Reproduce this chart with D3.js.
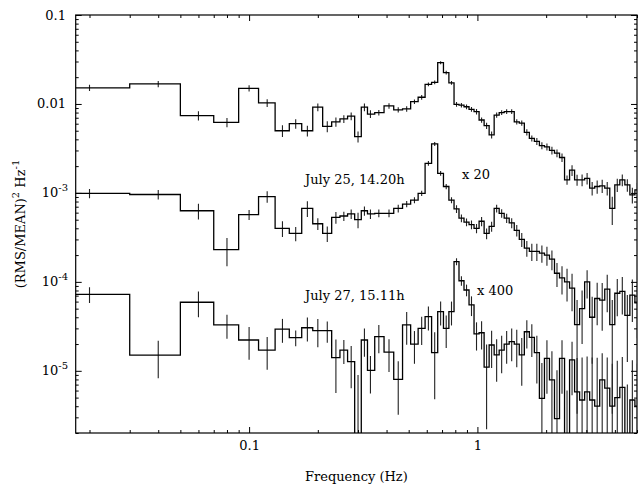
<!DOCTYPE html>
<html>
<head>
<meta charset="utf-8">
<script src="https://cdn.jsdelivr.net/npm/d3@7"></script>
<style>
  body { margin: 0; background: #fff; }
  svg { display: block; font-family: 'DejaVu Serif', serif; }
</style>
</head>
<body>
<svg width="639" height="487"></svg>
<script>
// bin centres (Hz), shared by the three spectra
const freq = [0.02, 0.04, 0.06, 0.08, 0.10, 0.12, 0.14, 0.16, 0.18, 0.20, 0.22, 0.24, 0.26, 0.28, 0.30, 0.32, 0.34,
  0.37, 0.41, 0.45, 0.49, 0.53, 0.57, 0.61, 0.65, 0.69, 0.73, 0.77, 0.81,
  0.851, 0.896, 0.942, 0.991, 1.043, 1.097, 1.154, 1.214, 1.277, 1.343, 1.413, 1.487, 1.564, 1.646, 1.731, 1.821, 1.916,
  2.016, 2.120, 2.231, 2.347, 2.469, 2.597, 2.732, 2.874, 3.023, 3.181, 3.346, 3.520, 3.703, 3.896,
  4.098, 4.311, 4.536, 4.771, 5.020];

// top spectrum (no scaling)
const topPower = [0.0152, 0.0168, 0.0074, 0.0062, 0.0150, 0.0103, 0.0050, 0.0060, 0.0050, 0.0092, 0.0056, 0.0063, 0.0068, 0.0073, 0.0043, 0.0092, 0.0077,
  0.0080, 0.0095, 0.0086, 0.0088, 0.0106, 0.0119, 0.0166, 0.0175, 0.0291, 0.0225, 0.0173, 0.0099,
  0.0097, 0.0093, 0.0087, 0.0082, 0.0066, 0.0057, 0.0045, 0.0075, 0.0080, 0.0082, 0.0082, 0.0063, 0.0061, 0.0048, 0.0041, 0.0038, 0.0034,
  0.0033, 0.0030, 0.0028, 0.0025, 0.0014, 0.0018, 0.0014, 0.0014, 0.00146, 0.00113, 0.00118, 0.0012, 0.00113, 0.00067,
  0.00123, 0.0014, 0.00123, 0.00095, 0.00108];
const topErr = [0.08, 0.08, 0.12, 0.12, 0.08, 0.1, 0.15, 0.12, 0.14, 0.1, 0.14, 0.12, 0.1, 0.1, 0.14, 0.1, 0.1,
  0.07, 0.07, 0.07, 0.07, 0.06, 0.06, 0.05, 0.05, 0.04, 0.05, 0.05, 0.06,
  0.06, 0.06, 0.06, 0.07, 0.07, 0.08, 0.09, 0.07, 0.06, 0.06, 0.06, 0.07, 0.07, 0.08, 0.08, 0.09, 0.09,
  0.09, 0.1, 0.1, 0.11, 0.12, 0.14, 0.14, 0.15, 0.15, 0.17, 0.17, 0.17, 0.17, 0.35,
  0.17, 0.15, 0.16, 0.2, 0.2];

// July 25, 14.20h  (x 20)
const july25 = [0.00099, 0.00096, 0.00063, 0.00023, 0.00057, 0.00091, 0.00040, 0.00035, 0.00067, 0.00045, 0.00035, 0.00053, 0.00055, 0.00058, 0.00050, 0.00063, 0.00058,
  0.00059, 0.00059, 0.00067, 0.00075, 0.00083, 0.00099, 0.00215, 0.00355, 0.00166, 0.00118, 0.00083, 0.00066,
  0.00052, 0.00047, 0.00044, 0.00040, 0.00048, 0.00035, 0.00042, 0.00067, 0.00059, 0.00052, 0.00046, 0.00038, 0.00030, 0.00024, 0.00022, 0.00022, 0.00021,
  0.00020, 0.00018, 0.000125, 0.000111, 0.00010, 0.000085, 0.000033, 0.00005, 0.0001, 0.00004, 0.000065, 0.0000625, 0.000083, 0.000033,
  0.0000745, 0.000078, 0.000042, 0.000071, 0.000058];
const july25Err = [0.12, 0.12, 0.2, 0.35, 0.13, 0.15, 0.2, 0.18, 0.2, 0.15, 0.2, 0.15, 0.12, 0.12, 0.2, 0.12, 0.12,
  0.1, 0.1, 0.1, 0.08, 0.08, 0.07, 0.06, 0.05, 0.06, 0.07, 0.08, 0.1,
  0.1, 0.1, 0.11, 0.12, 0.12, 0.14, 0.13, 0.1, 0.11, 0.12, 0.13, 0.15, 0.18, 0.2, 0.22, 0.22, 0.22,
  0.24, 0.25, 0.3, 0.35, 0.4, 0.45, 0.9, 0.6, 0.35, 0.7, 0.5, 0.55, 0.45, 0.9,
  0.45, 0.45, 0.7, 0.5, 0.6];

// July 27, 15.11h  (x 400)
const july27 = [7.25e-5, 1.5e-5, 5.9e-5, 3.28e-5, 2.22e-5, 1.71e-5, 2.95e-5, 2.36e-5, 3.05e-5, 2.83e-5, 2.83e-5, 1.41e-5, 1.71e-5, 1.27e-5, 1e-6, 2.22e-5, 1.01e-5,
  2.42e-5, 1.62e-5, 8.0e-6, 3.28e-5, 2.0e-5, 3.0e-5, 4.06e-5, 1.6e-5, 4.62e-5, 3.0e-5, 4.62e-5, 1.69e-4,
  1.03e-4, 8.1e-5, 5.5e-5, 2.6e-5, 2.68e-5, 1.1e-5, 1.95e-5, 1.51e-5, 1.71e-5, 2.0e-5, 2.13e-5, 2.0e-5, 1.51e-5, 2.75e-5, 2.38e-5, 1.6e-5, 4.9e-6,
  1.38e-5, 7.9e-6, 2.9e-6, 1.38e-5, 1e-6, 1.33e-5, 5.8e-6, 4.7e-6, 5.8e-6, 4.7e-6, 4.0e-6, 7.9e-6, 6.4e-6, 4.0e-6,
  5.0e-6, 6.5e-6, 1e-6, 4.7e-6, 4.0e-6];
const july27Err = [0.2, 0.45, 0.32, 0.3, 0.4, 0.4, 0.3, 0.2, 0.3, 0.35, 0.27, 0.6, 0.3, 0.5, 8, 0.35, 0.45,
  0.35, 0.4, 0.6, 0.4, 0.4, 0.35, 0.3, 0.7, 0.3, 0.4, 0.3, 0.09,
  0.12, 0.15, 0.25, 0.35, 0.35, 0.8, 0.45, 0.5, 0.45, 0.4, 0.4, 0.45, 0.55, 0.35, 0.4, 0.55, 1.5,
  0.6, 1.1, 2.5, 0.6, 5, 0.6, 1.4, 2, 1.5, 2, 2.5, 1, 1.2, 2,
  1.6, 1.2, 6, 1.8, 2];

const xMajor = [0.1, 1];
const xMinor = [0.02, 0.03, 0.04, 0.05, 0.06, 0.07, 0.08, 0.09, 0.2, 0.3, 0.4, 0.5, 0.6, 0.7, 0.8, 0.9, 2, 3, 4, 5];
const yMajor = [0.1, 0.01, 1e-3, 1e-4, 1e-5];
const yMajorBase = ['0.1', '0.01', '10', '10', '10'];
const yMajorExp = ['', '', '-3', '-4', '-5'];
const yDecades = [1e-6, 1e-5, 1e-4, 1e-3, 1e-2];
const yMinorSteps = [2, 3, 4, 5, 6, 7, 8, 9];

const svg = d3.select('svg');
const width = +svg.attr('width');
const height = +svg.attr('height');

const plotLeft = 75.7;
const plotRight = 637;
const plotTop = 15;
const plotBottom = 433;

const x = d3.scaleLog().domain([0.0174, 5.0]).range([plotLeft, plotRight]);
const y = d3.scaleLog().domain([2e-6, 0.1]).range([plotBottom, plotTop]);

const yMinor = yDecades.flatMap(d => yMinorSteps.map(m => d * m))
    .filter(v => v >= 2e-6 && v < 0.1);

svg.append('clipPath')
    .attr('id', 'plot')
  .append('rect')
    .attr('x', plotLeft)
    .attr('y', plotTop)
    .attr('width', plotRight - plotLeft)
    .attr('height', plotBottom - plotTop);

// bin edges halfway between centres
const n = freq.length;
const edges = freq.map((f, i) => i === 0 ? f - (freq[1] - f) / 2 : (freq[i - 1] + f) / 2);
edges.push(freq[n - 1] + (freq[n - 1] - freq[n - 2]) / 2);

const floorV = 1e-7;
const line = d3.line()
    .x(d => x(d[0]))
    .y(d => y(Math.max(d[1], floorV)));

const dataG = svg.append('g')
    .attr('clip-path', 'url(#plot)');

function drawSpectrum(values, errs) {
  const pts = [];
  values.forEach((v, i) => {
    pts.push([edges[i], v]);
    pts.push([edges[i + 1], v]);
  });

  dataG.append('g')
    .selectAll('line')
    .data(values)
    .join('line')
      .attr('x1', (v, i) => x(freq[i]))
      .attr('x2', (v, i) => x(freq[i]))
      .attr('y1', (v, i) => y(Math.max(v * (1 - errs[i]), floorV)))
      .attr('y2', (v, i) => y(v * (1 + errs[i])))
      .attr('stroke', '#222')
      .attr('stroke-width', 1.1);

  dataG.append('path')
      .attr('d', line(pts))
      .attr('fill', 'none')
      .attr('stroke', '#000')
      .attr('stroke-width', 1.3);
}

drawSpectrum(topPower, topErr);
drawSpectrum(july25, july25Err);
drawSpectrum(july27, july27Err);

// axes, ticks pointing inwards on all four sides
function tickGroup(axis, tx, ty) {
  const g = svg.append('g')
      .attr('transform', `translate(${tx},${ty})`)
      .call(axis);
  g.select('.domain').remove();
  g.selectAll('.tick line').attr('stroke', '#000').attr('stroke-width', 1);
  return g;
}

tickGroup(d3.axisBottom(x).tickValues(xMinor).tickSize(-3).tickFormat(''), 0, plotBottom);
tickGroup(d3.axisTop(x).tickValues(xMinor).tickSize(-3).tickFormat(''), 0, plotTop);
tickGroup(d3.axisTop(x).tickValues(xMajor).tickSize(-6).tickFormat(''), 0, plotTop);
tickGroup(d3.axisLeft(y).tickValues(yMinor).tickSize(-3).tickFormat(''), plotLeft, 0);
tickGroup(d3.axisRight(y).tickValues(yMinor).tickSize(-3).tickFormat(''), plotRight, 0);
tickGroup(d3.axisLeft(y).tickValues(yMajor).tickSize(-6).tickFormat(''), plotLeft, 0);
tickGroup(d3.axisRight(y).tickValues(yMajor).tickSize(-6).tickFormat(''), plotRight, 0);

const xLab = tickGroup(d3.axisBottom(x).tickValues(xMajor).tickSize(-6).tickPadding(7.5).tickFormat(d3.format('')), 0, plotBottom);
xLab.selectAll('text')
    .attr('font-size', 13)
    .attr('font-family', 'DejaVu Serif')
    .attr('fill', '#000');

svg.append('rect')
    .attr('x', plotLeft)
    .attr('y', plotTop)
    .attr('width', plotRight - plotLeft)
    .attr('height', plotBottom - plotTop)
    .attr('fill', 'none')
    .attr('stroke', '#000')
    .attr('stroke-width', 1.2);

// y tick labels, powers of ten written with exponents
const yText = svg.append('g')
    .attr('font-size', 13)
    .attr('text-anchor', 'end');

yMajor.forEach((v, i) => {
  const t = yText.append('text')
      .attr('x', yMajorExp[i] ? 68 : 66)
      .attr('y', y(v) + 4.5)
      .text(yMajorBase[i]);
  if (yMajorExp[i]) {
    t.append('tspan')
        .attr('dy', -6)
        .attr('font-size', 10)
        .text(yMajorExp[i]);
  }
});

svg.append('text')
    .attr('x', (plotLeft + plotRight) / 2)
    .attr('y', 481)
    .attr('text-anchor', 'middle')
    .attr('font-size', 13)
    .text('Frequency (Hz)');

const yTitle = svg.append('text')
    .attr('transform', `translate(25,${(plotTop + plotBottom) / 2}) rotate(-90)`)
    .attr('text-anchor', 'middle')
    .attr('font-size', 13);
yTitle.append('tspan').text('(RMS/MEAN)');
yTitle.append('tspan').attr('dy', -6).attr('font-size', 10).text('2');
yTitle.append('tspan').attr('dy', 6).text(' Hz');
yTitle.append('tspan').attr('dy', -6).attr('font-size', 10).text('-1');

const notes = svg.append('g')
    .attr('font-size', 13);
notes.append('text').attr('x', 305).attr('y', 184).text('July 25, 14.20h');
notes.append('text').attr('x', 462).attr('y', 179).text('x 20');
notes.append('text').attr('x', 305).attr('y', 300).text('July 27, 15.11h');
notes.append('text').attr('x', 477).attr('y', 295).text('x 400');
</script>
</body>
</html>
